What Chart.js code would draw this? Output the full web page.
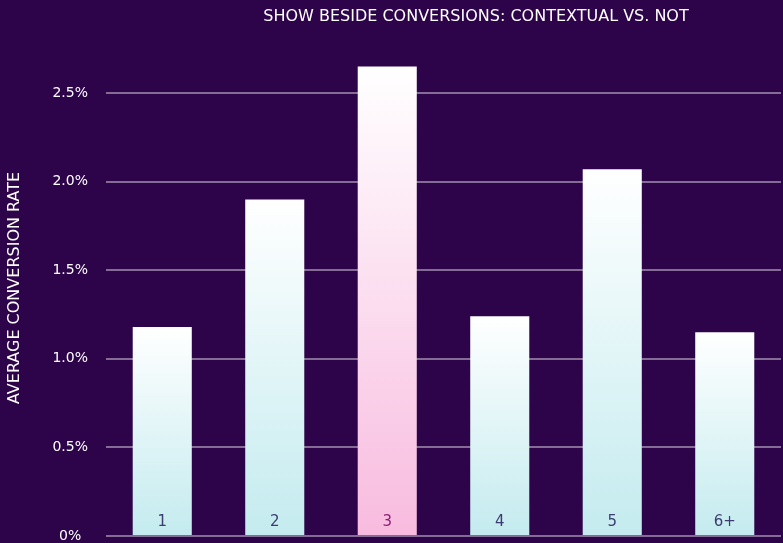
<!DOCTYPE html>
<html>
<head>
<meta charset="utf-8">
<script src="https://cdn.jsdelivr.net/npm/chart.js@4/dist/chart.umd.min.js"></script>
<style>
  html, body { margin: 0; padding: 0; background: #2d0349; }
  #wrap { width: 783px; height: 543px; position: relative; }
</style>
</head>
<body>
<div id="wrap"><canvas id="chart"></canvas></div>
<script>
const categories = ['1', '2', '3', '4', '5', '6+'];
const conversionRates = [1.18, 1.90, 2.65, 1.24, 2.07, 1.15];
const highlighted = ['3'];
const yTicks = [0, 0.5, 1.0, 1.5, 2.0, 2.5];

const bg = '#2d0349';
const gridColor = 'rgba(255,255,255,0.42)';
const fontFamily = '"DejaVu Sans", sans-serif';

function barFill(ctx) {
    const cat = categories[ctx.dataIndex];
    const base = highlighted.includes(cat) ? '#f8bbdf' : '#c4ebef';
    const y = ctx.chart.scales.y;
    if (!y) return base;
    const top = y.getPixelForValue(ctx.raw);
    const bottom = y.getPixelForValue(0);
    if (!isFinite(top) || !isFinite(bottom) || bottom <= top) return base;
    const g = ctx.chart.ctx.createLinearGradient(0, top, 0, bottom);
    g.addColorStop(0, '#ffffff');
    g.addColorStop(1, base);
    return g;
}

// title drawn at a fixed spot, labels drawn inside the bars
const extras = {
    id: 'extras',
    beforeDraw(chart) {
        const c = chart.ctx;
        c.save();
        c.fillStyle = bg;
        c.fillRect(0, 0, chart.width, chart.height);
        c.restore();
    },
    afterDraw(chart) {
        const c = chart.ctx;
        const meta = chart.getDatasetMeta(0);
        c.save();
        c.font = '16px ' + fontFamily;
        c.textAlign = 'center';
        c.textBaseline = 'middle';
        c.fillStyle = '#ffffff';
        c.fillText('SHOW BESIDE CONVERSIONS: CONTEXTUAL VS. NOT', 476, 17);
        c.font = '15px ' + fontFamily;
        meta.data.forEach((bar, i) => {
            c.fillStyle = highlighted.includes(categories[i]) ? '#8c1f74' : '#3b3d70';
            c.fillText(categories[i], bar.x, 522);
        });
        c.restore();
    }
};

new Chart(document.getElementById('chart'), {
    type: 'bar',
    data: {
        labels: categories,
        datasets: [{
            data: conversionRates,
            backgroundColor: barFill,
            borderWidth: 0,
            barPercentage: 0.525,
            categoryPercentage: 1
        }]
    },
    options: {
        responsive: true,
        maintainAspectRatio: false,
        animation: false,
        layout: { padding: { top: 40, bottom: 7, right: 2 } },
        plugins: { legend: { display: false }, tooltip: { enabled: false } },
        scales: {
            x: { display: false },
            y: {
                z: 1,
                min: 0,
                max: 2.8,
                afterBuildTicks: scale => { scale.ticks = yTicks.map(v => ({ value: v })); },
                afterFit: scale => {
                    scale.width = 106;
                    scale.paddingTop = 0;
                    scale.paddingBottom = 0;
                },
                border: { display: false },
                grid: { color: gridColor, lineWidth: 2, drawTicks: false },
                ticks: {
                    color: '#ffffff',
                    padding: 18,
                    crossAlign: 'center',
                    font: { family: fontFamily, size: 14 },
                    callback: v => (v === 0 ? '0%' : v.toFixed(1) + '%')
                },
                title: {
                    display: true,
                    text: 'AVERAGE CONVERSION RATE',
                    color: '#ffffff',
                    font: { family: fontFamily, size: 16 },
                    padding: { top: 5, bottom: 0 }
                }
            }
        }
    },
    plugins: [extras]
});
</script>
</body>
</html>
